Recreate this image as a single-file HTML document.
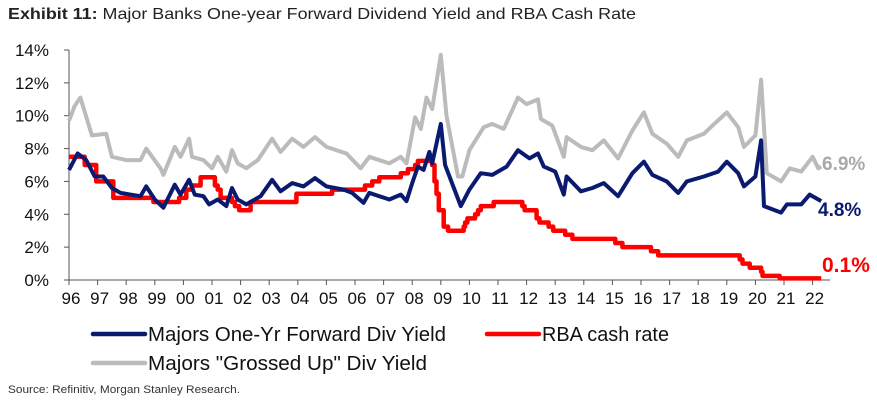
<!DOCTYPE html>
<html><head><meta charset="utf-8"><style>
body{margin:0;background:#fff;width:877px;height:402px;overflow:hidden;font-family:"Liberation Sans",sans-serif}
</style></head><body>
<svg width="877" height="402" xmlns="http://www.w3.org/2000/svg" font-family="Liberation Sans, sans-serif">
<text x="8" y="19" font-size="16" fill="#222" textLength="628" lengthAdjust="spacingAndGlyphs"><tspan font-weight="bold">Exhibit 11:</tspan>  Major Banks One-year Forward Dividend Yield and RBA Cash Rate</text>
<g id="yaxis"></g>
<g id="xaxis"></g>
<g id="series"></g>
<line x1="93" y1="334" x2="145" y2="334" stroke="#0a1a6e" stroke-width="4.5" stroke-linecap="round"/>
<text x="148" y="341" font-size="20" fill="#111" textLength="298" lengthAdjust="spacingAndGlyphs">Majors One-Yr Forward Div Yield</text>
<line x1="487" y1="334" x2="539" y2="334" stroke="#f00" stroke-width="4.5" stroke-linecap="round"/>
<text x="542" y="341" font-size="20" fill="#111" textLength="127" lengthAdjust="spacingAndGlyphs">RBA cash rate</text>
<line x1="93" y1="363" x2="145" y2="363" stroke="#bbb" stroke-width="4.5" stroke-linecap="round"/>
<text x="148" y="370" font-size="20" fill="#111" textLength="279" lengthAdjust="spacingAndGlyphs">Majors "Grossed Up" Div Yield</text>
<text x="8" y="393" font-size="11" fill="#333" textLength="232" lengthAdjust="spacingAndGlyphs">Source: Refinitiv, Morgan Stanley Research.</text>
<text x="822" y="170" font-size="19" font-weight="bold" fill="#a8a8a8">6.9%</text>
<text x="818" y="216" font-size="19" font-weight="bold" fill="#0a1a6e">4.8%</text>
<text x="822" y="272" font-size="21" font-weight="bold" fill="#f00">0.1%</text>
</svg>
<script>
const yTicks=[0,2,4,6,8,10,12,14];
const xYears=[1996,1997,1998,1999,2000,2001,2002,2003,2004,2005,2006,2007,2008,2009,2010,2011,2012,2013,2014,2015,2016,2017,2018,2019,2020,2021,2022];
const xLabels=["96","97","98","99","00","01","02","03","04","05","06","07","08","09","10","11","12","13","14","15","16","17","18","19","20","21","22"];
const greyT=[1996.0,1996.2,1996.4,1996.8,1997.3,1997.5,1998.0,1998.5,1998.7,1999.2,1999.3,1999.7,1999.9,2000.2,2000.3,2000.7,2001.0,2001.2,2001.5,2001.7,2001.9,2002.2,2002.6,2003.1,2003.4,2003.8,2004.2,2004.6,2005.0,2005.7,2006.2,2006.5,2007.2,2007.6,2007.8,2008.1,2008.3,2008.5,2008.7,2008.9,2009.0,2009.2,2009.6,2009.75,2010.0,2010.5,2010.8,2011.2,2011.7,2012.0,2012.4,2012.5,2012.9,2013.3,2013.4,2013.9,2014.3,2014.7,2015.2,2015.7,2016.1,2016.4,2016.9,2017.3,2017.6,2018.2,2018.5,2019.0,2019.4,2019.6,2020.0,2020.2,2020.4,2020.9,2021.2,2021.6,2022.0,2022.2,2022.3];
const greyV=[9.7,10.6,11.1,8.8,8.9,7.5,7.3,7.3,8.0,6.8,6.4,8.1,7.5,8.6,7.5,7.3,6.8,7.5,6.6,7.9,7.1,6.8,7.3,8.6,7.8,8.6,8.1,8.7,8.1,7.7,6.8,7.5,7.1,7.5,7.1,9.9,9.2,11.1,10.4,12.6,13.7,10.0,6.3,6.3,7.9,9.3,9.5,9.2,11.1,10.7,11.0,9.8,9.4,7.5,8.7,8.1,7.9,8.5,7.4,9.1,10.2,8.9,8.3,7.5,8.5,8.9,9.4,10.2,9.3,8.1,8.8,12.2,6.5,6.0,6.8,6.6,7.5,6.8,6.9];
const blueT=[1996.0,1996.3,1996.6,1996.9,1997.2,1997.5,1997.8,1998.5,1998.7,1999.0,1999.3,1999.7,1999.9,2000.2,2000.4,2000.7,2000.9,2001.2,2001.5,2001.7,2001.9,2002.2,2002.7,2003.1,2003.4,2003.8,2004.2,2004.6,2005.0,2005.6,2005.9,2006.3,2006.5,2007.2,2007.6,2007.8,2008.0,2008.2,2008.4,2008.6,2008.7,2008.9,2009.0,2009.15,2009.7,2010.0,2010.4,2010.8,2011.3,2011.7,2012.1,2012.4,2012.6,2013.0,2013.3,2013.4,2013.9,2014.3,2014.7,2015.2,2015.7,2016.1,2016.4,2016.9,2017.3,2017.6,2018.2,2018.7,2019.0,2019.4,2019.6,2020.0,2020.2,2020.3,2020.9,2021.1,2021.6,2021.9,2022.3];
const blueV=[6.7,7.7,7.3,6.3,6.3,5.6,5.3,5.1,5.7,4.9,4.4,5.8,5.2,6.1,5.2,5.1,4.6,4.9,4.5,5.6,4.9,4.6,5.1,6.1,5.4,5.9,5.7,6.2,5.7,5.5,5.3,4.7,5.3,4.9,5.2,4.8,5.9,6.9,6.7,7.8,7.1,8.7,9.5,7.0,4.5,5.5,6.5,6.4,6.9,7.9,7.4,7.7,6.9,6.6,5.2,6.3,5.4,5.6,5.9,5.1,6.5,7.2,6.4,6.0,5.3,6.0,6.3,6.6,7.2,6.5,5.7,6.3,8.5,4.5,4.1,4.6,4.6,5.2,4.8];
const cashT=[1996.0,1996.55,1996.95,1997.55,1998.95,1999.85,2000.1,2000.3,2000.6,2001.1,2001.2,2001.3,2001.7,2001.8,2001.95,2002.35,2003.95,2005.2,2006.35,2006.6,2006.85,2007.6,2007.85,2008.1,2008.2,2008.7,2008.78,2008.85,2008.93,2009.1,2009.25,2009.8,2009.85,2009.93,2010.2,2010.3,2010.4,2010.85,2011.85,2011.93,2012.35,2012.45,2012.77,2012.93,2013.35,2013.6,2015.1,2015.35,2016.35,2016.6,2019.45,2019.55,2019.8,2020.2,2020.25,2020.85,2022.3];
const cashV=[7.5,7.0,6.0,5.0,4.75,5.0,5.5,5.75,6.25,5.75,5.5,5.0,4.75,4.5,4.25,4.75,5.25,5.5,5.75,6.0,6.25,6.5,6.75,7.0,7.25,7.0,6.0,5.25,4.25,3.25,3.0,3.25,3.5,3.75,4.0,4.25,4.5,4.75,4.5,4.25,3.75,3.5,3.25,3.0,2.75,2.5,2.25,2.0,1.75,1.5,1.25,1.0,0.75,0.5,0.25,0.1,0.1];

const X0=69,X1=812.6,Y0=280,Y1=50;
const xs=t=>X0+(t-1996)*(X1-X0)/26;
const ys=v=>Y0-v*(Y0-Y1)/14;
const NS="http://www.w3.org/2000/svg";
function mk(tag,attrs,parent){const e=document.createElementNS(NS,tag);for(const k in attrs)e.setAttribute(k,attrs[k]);parent.appendChild(e);return e;}
const ya=document.getElementById('yaxis'),xa=document.getElementById('xaxis'),sg=document.getElementById('series');
const yl=mk('line',{x1:X0,y1:Y1,x2:X0,y2:Y0,stroke:'#555','stroke-width':1},ya);


yTicks.forEach(v=>{
  const tk=mk('line',{x1:X0-5,y1:ys(v),x2:X0,y2:ys(v),stroke:'#555'},ya);
  
  
  const t=mk('text',{x:49,y:ys(v)+6,'text-anchor':'end','font-size':17,fill:'#111'},ya);
  t.textContent=v+'%';
  
  
});
const xl=mk('line',{x1:X0,y1:Y0,x2:830,y2:Y0,stroke:'#555'},xa);


xYears.forEach((yv,i)=>{
  const tk=mk('line',{x1:xs(yv),y1:Y0,x2:xs(yv),y2:Y0+5,stroke:'#555'},xa);
  
  
  const t=mk('text',{x:xs(yv)+2,y:304,'text-anchor':'middle','font-size':17,fill:'#111'},xa);
  t.textContent=xLabels[i];
  
  
});
function linePath(T,V){return T.map((t,i)=>(i?'L':'M')+xs(t).toFixed(1)+','+ys(V[i]).toFixed(1)).join('');}
function stepPath(T,V){let d='M'+xs(T[0])+','+ys(V[0]);for(let i=1;i<T.length;i++){d+='L'+xs(T[i]).toFixed(1)+','+ys(V[i-1]).toFixed(1)+'L'+xs(T[i]).toFixed(1)+','+ys(V[i]).toFixed(1);}return d;}
const g=mk('path',{d:linePath(greyT,greyV),fill:'none',stroke:'#bbb','stroke-width':4,'stroke-linejoin':'round'},sg);


const c=mk('path',{d:stepPath(cashT,cashV),fill:'none',stroke:'#f00','stroke-width':4.5,'stroke-linejoin':'round'},sg);


const b=mk('path',{d:linePath(blueT,blueV),fill:'none',stroke:'#0a1a6e','stroke-width':4,'stroke-linejoin':'round'},sg);


</script>
</body></html>
